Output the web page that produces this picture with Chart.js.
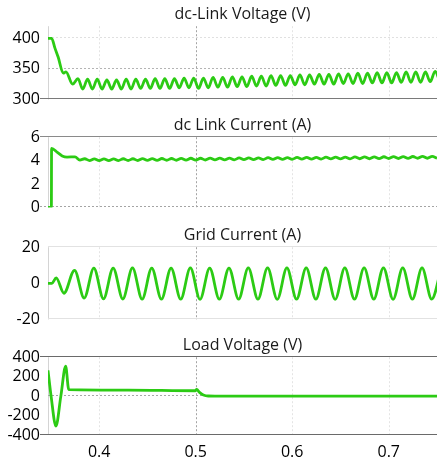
<!DOCTYPE html>
<html>
<head>
<meta charset="utf-8">
<script src="https://cdn.jsdelivr.net/npm/chart.js@4.4.1/dist/chart.umd.min.js"></script>
<style>
  html, body { margin: 0; padding: 0; background: #fff; }
  #wrap { position: relative; width: 437px; height: 462px; overflow: hidden; }
  #wrap canvas { position: absolute; left: 0; }
</style>
</head>
<body>
<div id="wrap">
  <canvas id="vdc" width="437" height="112" style="top:5px"></canvas>
  <canvas id="idc" width="437" height="109" style="top:116px"></canvas>
  <canvas id="igrid" width="437" height="111" style="top:226px"></canvas>
  <canvas id="vload" width="437" height="126" style="top:336px"></canvas>
</div>
<script>
// Time axis (s)
const timeMin = 0.347;
const timeMax = 0.75;
const timeTicks = [0.4, 0.5, 0.6, 0.7];

// Panel titles
const panelTitles = ['dc-Link Voltage (V)', 'dc Link Current (A)', 'Grid Current (A)', 'Load Voltage (V)'];

// Y tick values per panel
const vdcTicks = [300, 350, 400];
const idcTicks = [0, 2, 4, 6];
const igridTicks = [-20, 0, 20];
const vloadTicks = [-400, -200, 0, 200, 400];

// dc-link voltage: start-up sag, then the turning points of the 100 Hz ripple
const vdcTime = [0.347, 0.3508, 0.3542, 0.3576, 0.3628, 0.3656, 0.3725, 0.378, 0.383,
  0.388, 0.393, 0.398, 0.403, 0.408, 0.413, 0.418, 0.423, 0.428, 0.433,
  0.438, 0.443, 0.448, 0.453, 0.458, 0.463, 0.468, 0.473, 0.478, 0.483,
  0.488, 0.493, 0.498, 0.503, 0.508, 0.513, 0.518, 0.523, 0.528, 0.533,
  0.538, 0.543, 0.548, 0.553, 0.558, 0.563, 0.568, 0.573, 0.578, 0.583,
  0.588, 0.593, 0.598, 0.603, 0.608, 0.613, 0.618, 0.623, 0.628, 0.633,
  0.638, 0.643, 0.648, 0.653, 0.658, 0.663, 0.668, 0.673, 0.678, 0.683,
  0.688, 0.693, 0.698, 0.703, 0.708, 0.713, 0.718, 0.723, 0.728, 0.733,
  0.738, 0.743, 0.748, 0.753];
const vdcValues = [400, 400, 384, 369, 343, 345, 325, 334, 317,
  333, 317, 333, 317, 332, 317, 332, 317, 333, 317,
  333, 318, 333, 318, 334, 318, 334, 318, 334, 319,
  335, 319, 335, 318, 335, 319, 336, 320, 336, 320,
  337, 321, 337, 321, 338, 322, 338, 322, 339, 323,
  339, 323, 339, 324, 340, 324, 340, 325, 341, 325,
  341, 325, 342, 326, 342, 326, 343, 326, 343, 327,
  344, 327, 344, 327, 344, 328, 345, 328, 345, 328,
  345, 329, 346, 329];

// dc-link current: step at switch-on, settling, then 100 Hz ripple
const idcTime = [0.347, 0.3505, 0.3507, 0.3567, 0.3617, 0.3667,
  0.375, 0.380, 0.385, 0.390, 0.395, 0.400, 0.405, 0.410, 0.415, 0.420,
  0.425, 0.430, 0.435, 0.440, 0.445, 0.450, 0.455, 0.460, 0.465, 0.470,
  0.475, 0.480, 0.485, 0.490, 0.495, 0.500, 0.505, 0.510, 0.515, 0.520,
  0.525, 0.530, 0.535, 0.540, 0.545, 0.550, 0.555, 0.560, 0.565, 0.570,
  0.575, 0.580, 0.585, 0.590, 0.595, 0.600, 0.605, 0.610, 0.615, 0.620,
  0.625, 0.630, 0.635, 0.640, 0.645, 0.650, 0.655, 0.660, 0.665, 0.670,
  0.675, 0.680, 0.685, 0.690, 0.695, 0.700, 0.705, 0.710, 0.715, 0.720,
  0.725, 0.730, 0.735, 0.740, 0.745, 0.750];
const idcValues = [0, 0, 5.05, 4.7, 4.4, 4.3,
  4.32, 4.05, 4.16, 4.0, 4.15, 4.0, 4.15, 4.0, 4.15, 4.0,
  4.16, 4.01, 4.16, 4.01, 4.17, 4.02, 4.17, 4.02, 4.18, 4.03,
  4.18, 4.03, 4.19, 4.04, 4.2, 4.04, 4.2, 4.05, 4.21, 4.06,
  4.22, 4.06, 4.22, 4.07, 4.23, 4.08, 4.24, 4.08, 4.24, 4.09,
  4.25, 4.1, 4.26, 4.1, 4.26, 4.11, 4.27, 4.12, 4.28, 4.12,
  4.28, 4.13, 4.29, 4.14, 4.3, 4.14, 4.3, 4.15, 4.31, 4.16,
  4.32, 4.16, 4.32, 4.17, 4.33, 4.18, 4.34, 4.18, 4.34, 4.19,
  4.35, 4.2, 4.36, 4.2, 4.36, 4.21];

// grid current: 50 Hz peaks and troughs after start-up
const igridTime = [0.347, 0.351, 0.3555, 0.3635, 0.3745, 0.3845,
  0.3945, 0.4045, 0.4145, 0.4245, 0.4345, 0.4445, 0.4545, 0.4645,
  0.4745, 0.4845, 0.4945, 0.5045, 0.5145, 0.5245, 0.5345, 0.5445,
  0.5545, 0.5645, 0.5745, 0.5845, 0.5945, 0.6045, 0.6145, 0.6245,
  0.6345, 0.6445, 0.6545, 0.6645, 0.6745, 0.6845, 0.6945, 0.7045,
  0.7145, 0.7245, 0.7345, 0.7445, 0.7545];
const igridValues = [0, 0, 3.0, -5.5, 7.2, -8.2,
  8.4, -8.6, 8.4, -8.7, 8.5, -8.8, 8.4, -8.8,
  8.4, -8.8, 8.5, -8.9, 8.4, -8.8, 8.4, -8.8,
  8.5, -8.8, 8.5, -8.9, 8.5, -8.8, 8.5, -8.8,
  8.6, -8.9, 8.5, -8.8, 8.5, -8.8, 8.6, -8.9,
  8.5, -8.8, 8.5, -8.8, 8.5];

// load voltage: one swing, held level, then decay to zero after 0.5 s
const vloadTime = [0.347, 0.3502, 0.3552, 0.3603, 0.3653, 0.3685, 0.43, 0.4995,
  0.501, 0.504, 0.508, 0.513, 0.52, 0.75];
const vloadValues = [265, 0, -308, 0, 308, 67, 62, 55,
  68, 38, 12, 1, 0, 0];

const lineColor = '#2ccb14';
const fontFamily = "'Open Sans', 'DejaVu Sans', sans-serif";

function toPoints(times, values) {
  const n = Math.min(times.length, values.length);
  const pts = [];
  for (let i = 0; i < n; i++) pts.push({ x: times[i], y: values[i] });
  return pts;
}

// Reference lines drawn through the chart's own scales
const guideLines = {
  id: 'guideLines',
  beforeDatasetsDraw(chart, args, opts) {
    const { ctx, chartArea: a, scales: { x, y } } = chart;
    ctx.save();
    ctx.lineWidth = 1;
    (opts.vertical || []).forEach(g => {
      const px = Math.round(x.getPixelForValue(g.value)) + 0.5;
      ctx.beginPath();
      ctx.setLineDash(g.dash || []);
      ctx.strokeStyle = g.color;
      ctx.moveTo(px, a.top);
      ctx.lineTo(px, a.bottom);
      ctx.stroke();
    });
    (opts.horizontal || []).forEach(g => {
      const py = Math.round(y.getPixelForValue(g.value)) - 0.5;
      ctx.beginPath();
      ctx.setLineDash(g.dash || []);
      ctx.strokeStyle = g.color;
      ctx.moveTo(a.left - (g.extend || 0), py);
      ctx.lineTo(a.right, py);
      ctx.stroke();
    });
    ctx.restore();
  }
};

const verticalGuides = [
  { value: timeMin, color: '#d4d4d4' },
  { value: 0.4, color: '#e4e4e4', dash: [2, 2] },
  { value: 0.5, color: '#a4a4a4', dash: [2, 2] },
  { value: 0.6, color: '#e4e4e4', dash: [2, 2] },
  { value: 0.7, color: '#e4e4e4', dash: [2, 2] }
];

function makePanel(id, title, times, values, yMin, yMax, yTicks, showTime, hGuides) {
  return new Chart(document.getElementById(id), {
    type: 'line',
    data: {
      datasets: [{
        data: toPoints(times, values),
        borderColor: lineColor,
        borderWidth: 2.8,
        pointRadius: 0,
        fill: false,
        cubicInterpolationMode: 'monotone'
      }]
    },
    options: {
      responsive: false,
      animation: false,
      events: [],
      layout: { padding: 0 },
      plugins: {
        legend: { display: false },
        tooltip: { enabled: false },
        title: {
          display: true,
          text: title,
          fullSize: false,
          color: '#1a1a1a',
          font: { family: fontFamily, size: 16, weight: 'normal' },
          padding: { top: 0, bottom: 2 }
        },
        guideLines: { vertical: verticalGuides, horizontal: hGuides }
      },
      scales: {
        x: {
          type: 'linear',
          min: timeMin,
          max: timeMax,
          afterBuildTicks: s => { s.ticks = timeTicks.map(v => ({ value: v })); },
          afterFit: s => { s.height = showTime ? 27 : 12; },
          grid: { display: false, drawTicks: false },
          border: { display: false },
          ticks: {
            display: showTime,
            autoSkip: false,
            padding: 8,
            color: '#000',
            font: { family: fontFamily, size: 16 },
            maxRotation: 0,
            callback: v => v.toFixed(1)
          }
        },
        y: {
          min: yMin,
          max: yMax,
          afterBuildTicks: s => { s.ticks = yTicks.map(v => ({ value: v })); },
          afterFit: s => { s.width = 48; },
          grid: { display: false, drawTicks: false },
          border: { display: false },
          ticks: {
            autoSkip: false,
            padding: 8,
            color: '#000',
            font: { family: fontFamily, size: 16 },
            callback: v => String(v)
          }
        }
      }
    },
    plugins: [guideLines]
  });
}

makePanel('vdc', panelTitles[0], vdcTime, vdcValues, 300, 420, vdcTicks, false, [
  { value: 400, color: '#e0e0e0', dash: [2, 2] },
  { value: 350, color: '#b4b4b4', dash: [2, 2] },
  { value: 300, color: '#7a7a7a', extend: 8 }
]);
makePanel('idc', panelTitles[1], idcTime, idcValues, 0, 6, idcTicks, false, [
  { value: 6, color: '#8a8a8a', extend: 8 },
  { value: 0, color: '#a4a4a4', dash: [2, 2], extend: 8 }
]);
makePanel('igrid', panelTitles[2], igridTime, igridValues, -20, 20, igridTicks, false, [
  { value: 20, color: '#e2e2e2' },
  { value: -20, color: '#e2e2e2' }
]);
makePanel('vload', panelTitles[3], vloadTime, vloadValues, -400, 400, vloadTicks, true, [
  { value: 400, color: '#6a6a6a', extend: 8 },
  { value: 0, color: '#a8a8a8', dash: [2, 2] },
  { value: -400, color: '#6a6a6a', extend: 8 }
]);
</script>
</body>
</html>
